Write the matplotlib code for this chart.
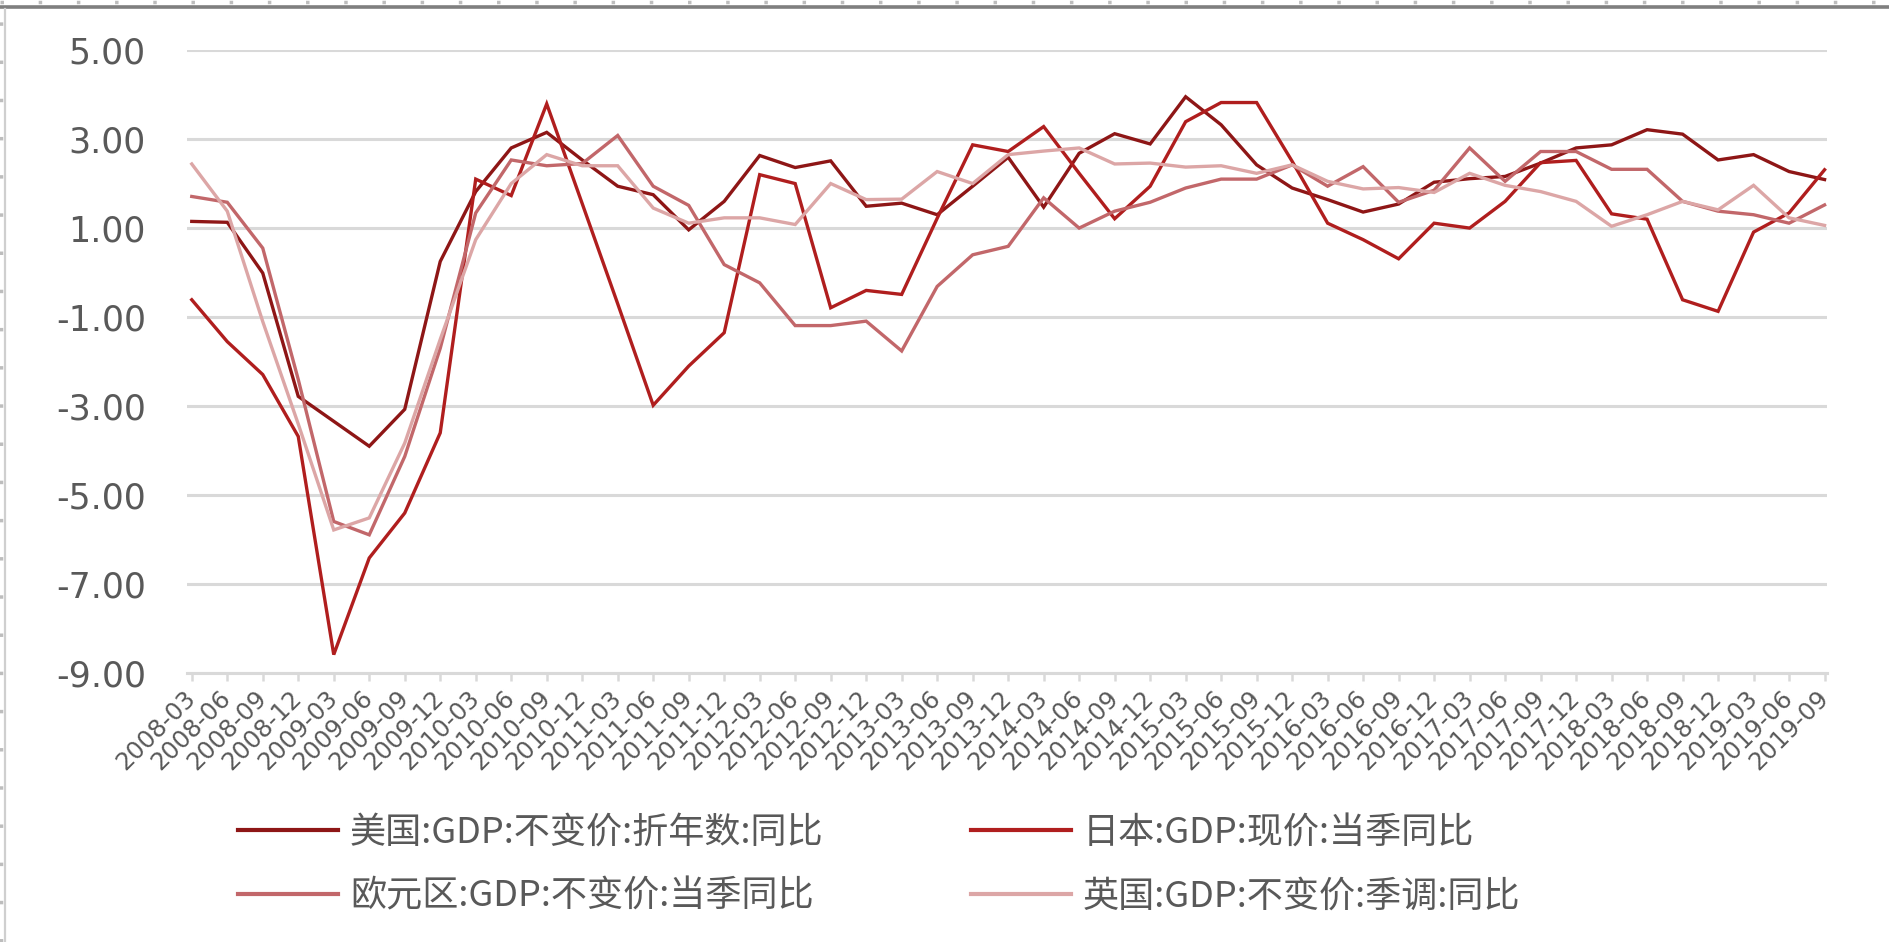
import matplotlib
matplotlib.use("Agg")
import matplotlib.pyplot as plt
from matplotlib.lines import Line2D

# ---------------- data ----------------
quarters = ["2008-03", "2008-06", "2008-09", "2008-12",
            "2009-03", "2009-06", "2009-09", "2009-12",
            "2010-03", "2010-06", "2010-09", "2010-12",
            "2011-03", "2011-06", "2011-09", "2011-12",
            "2012-03", "2012-06", "2012-09", "2012-12",
            "2013-03", "2013-06", "2013-09", "2013-12",
            "2014-03", "2014-06", "2014-09", "2014-12",
            "2015-03", "2015-06", "2015-09", "2015-12",
            "2016-03", "2016-06", "2016-09", "2016-12",
            "2017-03", "2017-06", "2017-09", "2017-12",
            "2018-03", "2018-06", "2018-09", "2018-12",
            "2019-03", "2019-06", "2019-09"]

us = [1.15, 1.13, -0.01, -2.78, -3.34, -3.90, -3.07, 0.25,
      1.82, 2.80, 3.15, 2.53, 1.94, 1.75, 0.96, 1.60,
      2.63, 2.36, 2.51, 1.49, 1.56, 1.30, 1.94, 2.59,
      1.47, 2.68, 3.12, 2.89, 3.95, 3.32, 2.42, 1.90,
      1.64, 1.36, 1.54, 2.03, 2.11, 2.16, 2.46, 2.80,
      2.87, 3.21, 3.11, 2.53, 2.65, 2.27, 2.09]

japan = [-0.61, -1.55, -2.29, -3.68, -8.58, -6.41, -5.40, -3.60,
         2.10, 1.73, 3.79, 1.55, -0.70, -2.98, -2.10, -1.35,
         2.20, 2.00, -0.79, -0.40, -0.49, 1.22, 2.87, 2.72,
         3.28, 2.23, 1.21, 1.94, 3.39, 3.82, 3.82, 2.50,
         1.11, 0.74, 0.31, 1.11, 1.00, 1.60, 2.47, 2.52,
         1.32, 1.20, -0.61, -0.87, 0.91, 1.34, 2.31]

euro = [1.71, 1.58, 0.55, -2.40, -5.59, -5.89, -4.13, -1.70,
        1.34, 2.53, 2.40, 2.45, 3.08, 1.94, 1.51, 0.18,
        -0.23, -1.19, -1.19, -1.09, -1.76, -0.31, 0.40, 0.59,
        1.68, 1.00, 1.38, 1.58, 1.90, 2.10, 2.10, 2.42,
        1.94, 2.38, 1.58, 1.85, 2.80, 2.05, 2.72, 2.72,
        2.32, 2.32, 1.60, 1.38, 1.30, 1.11, 1.52]

uk = [2.44, 1.38, -1.10, -3.40, -5.78, -5.51, -3.83, -1.50,
      0.74, 2.00, 2.65, 2.40, 2.40, 1.45, 1.11, 1.23,
      1.23, 1.08, 2.00, 1.64, 1.65, 2.27, 2.00, 2.65,
      2.73, 2.80, 2.44, 2.46, 2.37, 2.40, 2.23, 2.42,
      2.05, 1.88, 1.91, 1.80, 2.23, 1.96, 1.82, 1.60,
      1.04, 1.30, 1.60, 1.41, 1.96, 1.23, 1.06]

series_names = ["美国:GDP:不变价:折年数:同比", "日本:GDP:现价:当季同比",
                "欧元区:GDP:不变价:当季同比", "英国:GDP:不变价:季调:同比"]

ytick_values = [-9, -7, -5, -3, -1, 1, 3, 5]
ytick_labels = ["-9.00", "-7.00", "-5.00", "-3.00", "-1.00", "1.00", "3.00", "5.00"]

# ---------------- style ----------------
colors = ["#8E1616", "#B01E1E", "#C2676A", "#DCA6A6"]
text_color = "#595959"
grid_color = "#D9D9D9"
cjk_family = ["Noto Sans CJK SC", "DejaVu Sans"]

plt.rcParams["font.family"] = ["DejaVu Sans"]

W, H = 1890, 942
fig = plt.figure(figsize=(W / 100, H / 100), dpi=100)
fig.patch.set_facecolor("white")

ax_left, ax_right = 187.5, 1826.7
ax_top, ax_bottom = 50.0, 673.3
ax = fig.add_axes([ax_left / W, 1 - ax_bottom / H,
                   (ax_right - ax_left) / W, (ax_bottom - ax_top) / H])

x = list(range(len(quarters)))
all_series = [us, japan, euro, uk]
handles = []
for vals, col, name in zip(all_series, colors, series_names):
    (ln,) = ax.plot(x, vals, color=col, lw=2.4, label=name, solid_joinstyle="miter", zorder=3)
    handles.append(ln)

ax.set_xlim(-0.12, len(quarters) - 1 + 0.06)
ax.set_ylim(-9, 5)

ax.set_yticks(ytick_values)
ax.set_yticklabels(ytick_labels, fontsize=25, color=text_color)
ax.tick_params(axis="y", length=0, pad=30)
ax.yaxis.grid(True, color=grid_color, lw=2.2, zorder=0)
ax.set_axisbelow(True)

ax.set_xticks(x)
ax.set_xticklabels(quarters, rotation=45, ha="right", va="center",
                   rotation_mode="anchor", fontsize=17.5, color=text_color)
ax.tick_params(axis="x", length=6, width=1.8, color=grid_color, pad=9)

for s in ["top", "right", "left"]:
    ax.spines[s].set_visible(False)
ax.spines["bottom"].set_color(grid_color)
ax.spines["bottom"].set_linewidth(2.2)

# legend: row1 US / Japan, row2 Euro / UK
order = [0, 2, 1, 3]
leg = fig.legend([handles[i] for i in order], [series_names[i] for i in order],
                 ncol=2, loc="upper left",
                 bbox_to_anchor=(238 / W, 1 - 815 / H),
                 frameon=False, handlelength=2.77, handletextpad=0.33,
                 columnspacing=4.07, labelspacing=0.76, borderaxespad=0, borderpad=0,
                 prop={"family": cjk_family, "size": 26})
for t in leg.get_texts():
    t.set_color(text_color)
for lh in leg.get_lines():
    lh.set_linewidth(3.0)

# screenshot-style frame decoration
fig.add_artist(Line2D([0, 1], [1 - 7 / H, 1 - 7 / H], transform=fig.transFigure,
                      color="#7F7F7F", lw=2.6))
fig.add_artist(Line2D([0, 1], [1 - 1.5 / H, 1 - 1.5 / H], transform=fig.transFigure,
                      color="#BDBDBD", lw=2.5, linestyle=(0, (1, 10))))
fig.add_artist(Line2D([5 / W, 5 / W], [0, 1 - 9 / H], transform=fig.transFigure,
                      color="#CFCFCF", lw=1.6))
fig.add_artist(Line2D([1.5 / W, 1.5 / W], [0, 1 - 9 / H], transform=fig.transFigure,
                      color="#BDBDBD", lw=2.5, linestyle=(0, (1, 10))))

fig.savefig("out.png", dpi=100, facecolor="white")
